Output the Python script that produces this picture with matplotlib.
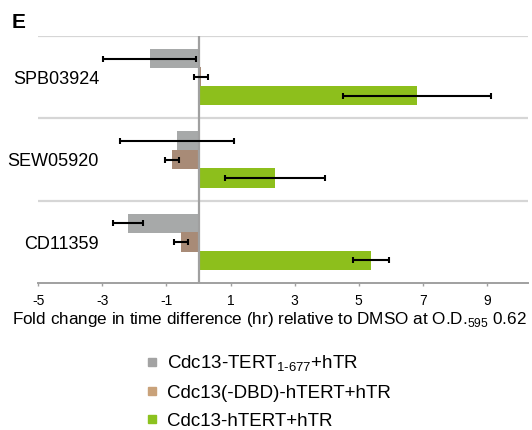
import numpy as np
import matplotlib
matplotlib.use('Agg')
import matplotlib.pyplot as plt
from matplotlib.lines import Line2D

plt.rcParams['font.family'] = ['Liberation Sans', 'DejaVu Sans']
plt.rcParams['mathtext.fontset'] = 'custom'
plt.rcParams['mathtext.rm'] = 'Liberation Sans'

# data
compounds = ['SPB03924', 'SEW05920', 'CD11359']
series_names = ['Cdc13-TERT$_{\\mathregular{1‐677}}$+hTR',
                'Cdc13(-DBD)-hTERT+hTR',
                'Cdc13-hTERT+hTR']
tert_677 = [-1.53, -0.67, -2.21]
tert_677_err = [1.44, 1.78, 0.47]
dbd = [0.08, -0.83, -0.56]
dbd_err = [0.21, 0.23, 0.22]
htert = [6.83, 2.39, 5.38]
htert_err = [2.31, 1.55, 0.55]
xticks = [-5, -3, -1, 1, 3, 5, 7, 9]

colors = ['#a7a9a9', '#a88b77', '#8dbf1c']
legend_colors = ['#a3a3a3', '#c9a27a', '#8cc21f']
values = [tert_677, dbd, htert]
errors = [tert_677_err, dbd_err, htert_err]

fig = plt.figure(figsize=(5.32, 4.30), dpi=100)
ax = fig.add_axes([38.3 / 532, 1 - 283 / 430, 489.7 / 532, 247 / 430])

y = np.arange(len(compounds))
offsets = [-0.225, 0.0, 0.225]
bar_h = 0.235

for vals, errs, col, off in zip(values, errors, colors, offsets):
    ax.barh(y + off, vals, height=bar_h, color=col, zorder=2)
    ax.errorbar(vals, y + off, xerr=errs, fmt='none', ecolor='black',
                elinewidth=1.5, capsize=2, capthick=1.5, zorder=4)

# group separators
for b in [-0.5, 0.5, 1.5]:
    ax.axhline(b, color='#d6d6d6', lw=1.6, zorder=1)
ax.axvline(0, color='#a0a0a0', lw=1.6, zorder=3)

ax.set_xlim(-5, 10.28)
ax.set_ylim(2.5, -0.5)
ax.set_xticks(xticks)
ax.set_xticklabels([str(t) for t in xticks], fontsize=10)
ax.set_yticks([])
ax.tick_params(axis='x', direction='out', length=2.5, width=1, color='#a0a0a0', pad=5.5)
for s in ['top', 'right', 'left']:
    ax.spines[s].set_visible(False)
ax.spines['bottom'].set_color('#a0a0a0')
ax.spines['bottom'].set_linewidth(1.4)

for i, name in enumerate(compounds):
    ax.text(0.124, i + 0.03, name, transform=ax.get_yaxis_transform(),
            ha='right', va='center', fontsize=13)

fig.text(12 / 532, 1 - 324 / 430,
         'Fold change in time difference (hr) relative to DMSO at O.D.$_{\\mathregular{595}}$ 0.62',
         ha='left', va='baseline', fontsize=12.3)

fig.text(12 / 532, 1 - 28 / 430, 'E', ha='left', va='baseline',
         fontsize=15, fontweight='bold')

handles = [Line2D([], [], marker='s', linestyle='none', markersize=5.5,
                  markerfacecolor=c, markeredgecolor=c) for c in legend_colors]
fig.legend(handles, series_names, loc='upper left',
           bbox_to_anchor=(144 / 532, 1 - 354 / 430), frameon=False,
           fontsize=13.5, handlelength=0.8, handletextpad=0.43,
           labelspacing=0.56, borderpad=0, borderaxespad=0)

fig.savefig('out.png', dpi=100)
